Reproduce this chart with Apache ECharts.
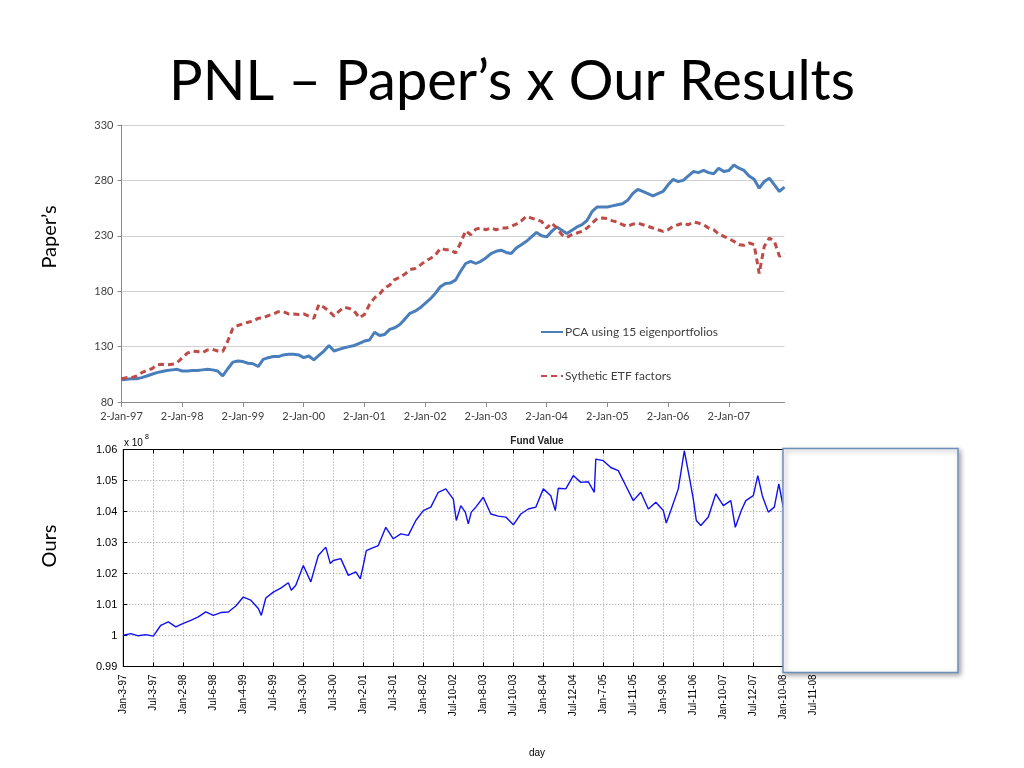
<!DOCTYPE html>
<html><head><meta charset="utf-8">
<script src="https://cdn.jsdelivr.net/npm/echarts@6/dist/echarts.min.js"></script>
<style>html,body{margin:0;padding:0;background:#fff}#c{width:1024px;height:768px}</style>
</head><body><div id="c"></div>
<script>
// ---------- Paper's chart (monthly, Jan-97 .. Dec-07) ----------
const monthNames = ['Jan','Feb','Mar','Apr','May','Jun','Jul','Aug','Sep','Oct','Nov','Dec'];
const paperYears = ['97','98','99','00','01','02','03','04','05','06','07'];
const paperMonths = [];
paperYears.forEach(y => monthNames.forEach(m => paperMonths.push(m + '-' + y)));

const pcaValues = [
100, 100.5, 101, 101, 102, 103.5, 105, 106.5, 107.5, 108.5, 109, 109.5,
108, 108, 108.5, 108.5, 109, 109.5, 109, 108, 103.5, 110, 116, 117,
116.5, 115, 114.5, 112, 118.5, 120, 121, 121, 122.5, 123, 123, 122.5,
120, 121.5, 118, 122, 126, 131, 126, 127.5, 129, 130, 131, 133,
135, 136, 143, 140, 141, 145.5, 147, 150, 155, 160, 162, 165,
169, 173, 178, 184, 187, 187.5, 190, 198, 205, 207, 205, 207,
210, 214, 216, 217, 215, 214, 219, 222, 225, 229, 233, 230,
229, 234, 238, 235, 232, 235, 238, 240, 244, 252, 256, 256,
256, 257, 258, 259, 262, 268, 272, 270, 268, 266, 268, 270,
276, 281, 279, 280, 284, 288, 287, 289, 287, 286, 291, 288,
289, 294, 291, 289, 284, 281, 273, 279, 282, 276, 270, 274
];
const etfValues = [
101, 102, 102, 103.5, 106.5, 108.5, 110, 113.5, 114, 113.5, 114, 115.5,
120, 124, 126, 125.5, 124.5, 127, 127.5, 126, 125.5, 135, 146.5, 149,
150.5, 152, 153, 155.5, 156, 158, 159.5, 161.5, 161.5, 159.5, 159.5, 159,
159.5, 157.5, 155.5, 168, 165.5, 162, 157.5, 162, 165.5, 164.5, 162, 156,
159, 168, 174, 177.5, 183, 185.5, 190.5, 192.5, 195.5, 199.5, 200.5, 203.5,
207, 209.5, 212.5, 218.5, 217.5, 217.5, 214.5, 223.5, 234.5, 231, 236, 237,
235.5, 237, 235.5, 237, 237, 238.5, 240.5, 243.5, 247.5, 246, 244.5, 243,
237, 241.5, 237, 231, 228.6, 231, 232.5, 234, 237, 241.5, 245.5, 246,
245.5, 243.5, 242.5, 240, 238.5, 240.5, 241.5, 240, 238.5, 237, 235.5, 234,
235.5, 238.5, 240, 241.5, 240, 242.5, 241.5, 240, 237, 235.5, 231.6, 229.5,
227.4, 225, 222, 221.4, 223.5, 222, 196, 220.5, 228, 225, 211.5, 213.6
];
const paperYTicks = [80, 130, 180, 230, 280, 330];

// ---------- Our chart (fund value, x 10^8, vs tick index of trading days) ----------
const ourTickLabels = ['Jan-3-97','Jul-3-97','Jan-2-98','Jul-6-98','Jan-4-99','Jul-6-99','Jan-3-00','Jul-3-00',
  'Jan-2-01','Jul-3-01','Jan-8-02','Jul-10-02','Jan-8-03','Jul-10-03','Jan-8-04','Jul-12-04','Jan-7-05',
  'Jul-11-05','Jan-9-06','Jul-11-06','Jan-10-07','Jul-12-07','Jan-10-08','Jul-11-08'];
const ourPos = [0,0.25,0.5,0.75,1,1.25,1.5,1.75,2,2.25,2.5,2.75,3,3.25,3.5,3.75,4,4.25,4.5,4.6,4.75,5,5.25,5.5,5.6,5.75,
  6,6.25,6.5,6.75,6.9,7,7.25,7.5,7.75,7.9,8,8.1,8.25,8.5,8.75,9,9.25,9.5,9.75,10,10.25,10.5,10.75,11,11.1,11.25,11.4,11.5,
  11.6,11.75,12,12.25,12.5,12.75,13,13.25,13.5,13.75,14,14.25,14.4,14.5,14.75,15,15.25,15.5,15.7,15.75,16,16.25,16.5,16.75,
  17,17.25,17.5,17.75,18,18.1,18.25,18.5,18.7,18.9,19,19.1,19.25,19.5,19.75,20,20.25,20.4,20.6,20.75,21,21.15,21.3,21.5,
  21.7,21.85,22];
const ourValues = [1.0001,1.0006,0.9999,1.0003,0.9998,1.0033,1.0044,1.0028,1.0039,1.0049,1.0060,1.0076,1.0065,1.0074,1.0076,1.0095,
  1.0124,1.0114,1.0087,1.0065,1.0121,1.0140,1.0153,1.0170,1.0146,1.0162,1.0226,1.0173,1.0258,1.0285,1.0232,1.0242,1.0248,1.0194,
  1.0205,1.0183,1.0226,1.0274,1.0280,1.0290,1.0349,1.0312,1.0328,1.0323,1.0371,1.0403,1.0414,1.0462,1.0473,1.0440,1.0371,1.0419,
  1.0398,1.0360,1.0398,1.0414,1.0446,1.0392,1.0385,1.0382,1.0357,1.0392,1.0408,1.0414,1.0473,1.0451,1.0403,1.0475,1.0473,1.0516,
  1.0494,1.0496,1.0462,1.0569,1.0564,1.0542,1.0532,1.0483,1.0435,1.0462,1.0408,1.0430,1.0403,1.0363,1.0403,1.0473,1.0596,1.0494,
  1.0440,1.0371,1.0355,1.0382,1.0457,1.0419,1.0435,1.0349,1.0403,1.0435,1.0451,1.0516,1.0451,1.0398,1.0414,1.0489,1.0414];

const chart = echarts.init(document.getElementById('c'), null, {renderer: 'canvas'});
const dotted = {type: [1, 2], color: '#9a9a9a', width: 1};
const option = {
  animation: false,
  backgroundColor: '#fff',
  grid: [
    {left: 121.5, top: 125, width: 663, height: 277, containLabel: false},
    {left: 123.3, top: 449.5, width: 705, height: 217, containLabel: false, show: true, borderColor: '#000', borderWidth: 1, backgroundColor: 'transparent'}
  ],
  legend: {
    left: 535, top: 321, orient: 'vertical', itemGap: 32, itemWidth: 22, itemHeight: 14,
    itemStyle: {opacity: 0},
    textStyle: {fontFamily: 'Lato', fontSize: 12, color: '#404040', padding: [0, 0, 0, -3]},
    data: ['PCA using 15 eigenportfolios', 'Sythetic ETF factors']
  },
  xAxis: [
    {type: 'category', gridIndex: 0, data: paperMonths, boundaryGap: false,
     axisLine: {lineStyle: {color: '#8a8a8a'}},
     axisTick: {interval: 11, length: 5, lineStyle: {color: '#8a8a8a'}},
     axisLabel: {interval: 11, formatter: c => '2-' + c, color: '#404040', fontSize: 11, fontFamily: 'Lato', margin: 9},
     splitLine: {show: false}},
    {type: 'value', gridIndex: 1, min: 0, max: 23.5, interval: 1, position: 'bottom',
     axisLine: {lineStyle: {color: '#000'}},
     axisTick: {inside: true, length: 4, lineStyle: {color: '#000'}},
     axisLabel: {rotate: 90, showMaxLabel: false, margin: 8, fontSize: 10, fontFamily: 'Liberation Sans', color: '#000',
       formatter: v => ourTickLabels[Math.round(v)] || ''},
     splitLine: {show: true, lineStyle: dotted}},
    {type: 'value', gridIndex: 1, min: 0, max: 23.5, interval: 1, position: 'top',
     axisLine: {lineStyle: {color: '#000'}},
     axisTick: {inside: true, length: 4, lineStyle: {color: '#000'}},
     axisLabel: {show: false}, splitLine: {show: false}}
  ],
  yAxis: [
    {type: 'value', gridIndex: 0, min: paperYTicks[0], max: paperYTicks[paperYTicks.length - 1], interval: 50,
     axisLine: {show: true, lineStyle: {color: '#8a8a8a'}},
     axisTick: {show: true, length: 4, lineStyle: {color: '#8a8a8a'}},
     axisLabel: {color: '#404040', fontSize: 11, fontFamily: 'Lato', margin: 8},
     splitLine: {show: true, lineStyle: {color: '#d0d0d0', width: 1}}},
    {type: 'value', gridIndex: 1, min: 0.99, max: 1.06, interval: 0.01,
     axisLine: {show: true, lineStyle: {color: '#000'}},
     axisTick: {show: true, inside: true, length: 4, lineStyle: {color: '#000'}},
     axisLabel: {color: '#000', fontSize: 11, fontFamily: 'Liberation Sans', margin: 6,
       formatter: v => String(parseFloat(v.toFixed(2)))},
     splitLine: {show: true, lineStyle: dotted}}
  ],
  series: [
    {type: 'line', name: 'PCA using 15 eigenportfolios', xAxisIndex: 0, yAxisIndex: 0, data: pcaValues,
     symbol: 'none', showSymbol: false, lineStyle: {color: '#4a7ebb', width: 3}, itemStyle: {color: '#4a7ebb'}},
    {type: 'line', name: 'Sythetic ETF factors', xAxisIndex: 0, yAxisIndex: 0, data: etfValues,
     symbol: 'none', showSymbol: false, lineStyle: {color: '#be4b48', width: 3, type: [6, 4]}, itemStyle: {color: '#be4b48'}},
    {type: 'line', name: 'Fund Value', xAxisIndex: 1, yAxisIndex: 1, data: ourPos.map((p, i) => [p, ourValues[i]]),
     symbol: 'none', showSymbol: false, lineStyle: {color: '#1010f0', width: 1.4}, itemStyle: {color: '#1010f0'}}
  ],
  graphic: [
    {type: 'text', x: 512, y: 82, style: {text: 'PNL – Paper’s x Our Results', font: '56px Lato', fill: '#000', textAlign: 'center', textVerticalAlign: 'middle'}},
    {type: 'text', x: 50, y: 237, rotation: Math.PI / 2, style: {text: 'Paper’s', font: '20px Lato', fill: '#000', textAlign: 'center', textVerticalAlign: 'middle'}},
    {type: 'text', x: 50, y: 546, rotation: Math.PI / 2, style: {text: 'Ours', font: '20px Lato', fill: '#000', textAlign: 'center', textVerticalAlign: 'middle'}},
    {type: 'text', x: 537, y: 441, style: {text: 'Fund Value', font: 'bold 10px "Liberation Sans"', fill: '#222', textAlign: 'center', textVerticalAlign: 'middle'}},
    {type: 'text', x: 124, y: 443, style: {text: 'x 10', font: '10px "Liberation Sans"', fill: '#000', textAlign: 'left', textVerticalAlign: 'middle'}},
    {type: 'text', x: 145, y: 437, style: {text: '8', font: '7px "Liberation Sans"', fill: '#000', textAlign: 'left', textVerticalAlign: 'middle'}},
    {type: 'text', x: 537, y: 753, style: {text: 'day', font: '10px "Liberation Sans"', fill: '#000', textAlign: 'center', textVerticalAlign: 'middle'}},
    {type: 'rect', z: 100, shape: {x: 783, y: 448.5, width: 175, height: 224},
     style: {fill: '#fff', stroke: '#6d8fbd', lineWidth: 1.5, shadowBlur: 5, shadowColor: 'rgba(0,0,0,0.35)', shadowOffsetX: 2, shadowOffsetY: 2}}
  ]
};
chart.setOption(option);
</script>
</body></html>
